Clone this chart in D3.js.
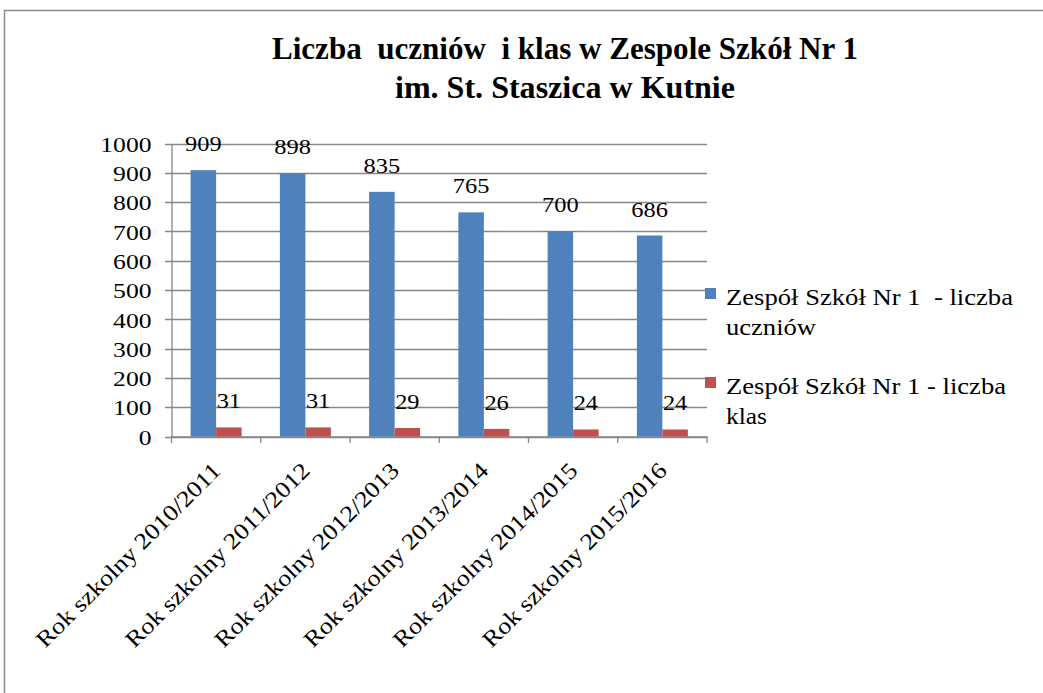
<!DOCTYPE html>
<html><head><meta charset="utf-8">
<script src="https://cdn.jsdelivr.net/npm/d3@7"></script>
<style>body{margin:0;background:#fff}svg{display:block}svg text{font-family:"Liberation Serif","Times New Roman",serif;white-space:pre}</style>
</head><body><svg id="c" width="1043" height="693" font-family="Liberation Serif, Times New Roman, serif"></svg>
<script>
const categories = ["Rok szkolny 2010/2011","Rok szkolny 2011/2012","Rok szkolny 2012/2013","Rok szkolny 2013/2014","Rok szkolny 2014/2015","Rok szkolny 2015/2016"];
const seriesNames = ["Zespół Szkół Nr 1  - liczba uczniów","Zespół Szkół Nr 1 - liczba klas"];
const uczniowie = [909, 898, 835, 765, 700, 686];
const klasy = [31, 31, 29, 26, 24, 24];
const yTicks = [0,100,200,300,400,500,600,700,800,900,1000];
const titleLines = ["Liczba  uczniów  i klas w Zespole Szkół Nr 1", "im. St. Staszica w Kutnie"];
const colors = ["#4F81BD", "#C0504D"];
const FONT = "Liberation Serif, Times New Roman, serif";

const svg = d3.select("#c");
svg.append("rect").attr("x",4.5).attr("y",10.5).attr("width",1100).attr("height",800)
  .attr("fill","#fff").attr("stroke","#8c8c8c").attr("stroke-width",1.5);

// title
const tl = [[titleLines[0], 48, 586],[titleLines[1], 87, 340]];
tl.forEach(([t, y, len]) => {
  svg.append("text").attr("x",565).attr("y",y).attr("text-anchor","middle").attr("dominant-baseline","central")
    .attr("font-family",FONT).attr("xml:space","preserve")
    .attr("font-size",31).attr("font-weight","bold").attr("textLength",len).attr("lengthAdjust","spacingAndGlyphs").text(t);
});

const x0 = d3.scaleBand().domain(categories).range([171.5, 707]).paddingInner(0).paddingOuter(0);
const x1 = d3.scaleBand().domain([0,1]).range([0, x0.bandwidth()]).paddingInner(0).paddingOuter(0.75);
const y = d3.scaleLinear().domain([0,1000]).range([436.5, 143.5]);

// gridlines
svg.append("g").selectAll("line").data(yTicks).join("line")
  .attr("x1",165).attr("x2",707).attr("y1",d=>Math.round(y(d))+0.5).attr("y2",d=>Math.round(y(d))+0.5)
  .attr("stroke","#868686").attr("stroke-width",1.3);
// y axis
const yAxis = svg.append("g").attr("transform","translate(171.5,0)")
  .call(d3.axisLeft(y).tickValues(yTicks).tickSize(0).tickPadding(20).tickFormat(d3.format("d")));
yAxis.attr("font-family",FONT);
yAxis.select(".domain").attr("stroke","#868686").attr("stroke-width",1.3);
yAxis.selectAll("text").attr("font-size",22).attr("fill","#000").attr("font-family",FONT)
  .attr("textLength",function(){return this.textContent.length*12.8;}).attr("lengthAdjust","spacingAndGlyphs")
  .attr("dy","0.35em");

// x axis
const xAxis = svg.append("g").attr("transform","translate(0,436.5)")
  .call(d3.axisBottom(x0).tickSize(0).tickFormat(""));
xAxis.select(".domain").attr("stroke","#868686").attr("stroke-width",1.3);
const bounds = [...categories.map(c=>x0(c)), x0(categories[categories.length-1])+x0.bandwidth()];
svg.append("g").selectAll("line").data(bounds).join("line")
  .attr("x1",d=>d).attr("x2",d=>d).attr("y1",436.5).attr("y2",443)
  .attr("stroke","#868686").attr("stroke-width",1.3);

svg.append("g").selectAll("text").data(categories).join("text")
  .attr("transform",d=>`translate(${x0(d)+x0.bandwidth()/2+6},${472}) rotate(-45)`)
  .attr("font-family",FONT).attr("textLength",250).attr("lengthAdjust","spacingAndGlyphs")
  .attr("text-anchor","end").attr("font-size",23).text(d=>d);

// bars
const series = [uczniowie, klasy];
series.forEach((vals, si) => {
  const g = svg.append("g");
  g.selectAll("rect").data(vals).join("rect")
    .attr("x",(d,i)=>x0(categories[i])+x1(si)).attr("width",x1.bandwidth())
    .attr("y",d=>y(d)).attr("height",d=>y(0)-y(d)).attr("fill",colors[si]);
  g.selectAll("text").data(vals).join("text")
    .attr("x",(d,i)=>x0(categories[i])+x1(si)+x1.bandwidth()/2)
    .attr("y",d=>y(d)-19).attr("text-anchor","middle").attr("font-size",22).attr("font-family",FONT)
    .attr("textLength",d=>String(d).length*12.2).attr("lengthAdjust","spacingAndGlyphs").text(d=>d);
});

// legend
const leg = [
  {c:colors[0], lines:[["Zespół Szkół Nr 1  - liczba",287],["uczniów",90]], y:305},
  {c:colors[1], lines:[["Zespół Szkół Nr 1 - liczba",280],["klas",41]], y:394}
];
leg.forEach(l => {
  svg.append("rect").attr("x",705).attr("y",l.y-17).attr("width",11).attr("height",11).attr("fill",l.c);
  l.lines.forEach(([t,len],i)=>{
    svg.append("text").attr("x",726).attr("y",l.y+i*30).attr("font-size",23).attr("font-family",FONT)
      .attr("xml:space","preserve").attr("textLength",len).attr("lengthAdjust","spacingAndGlyphs").text(t);
  });
});
</script></body></html>
